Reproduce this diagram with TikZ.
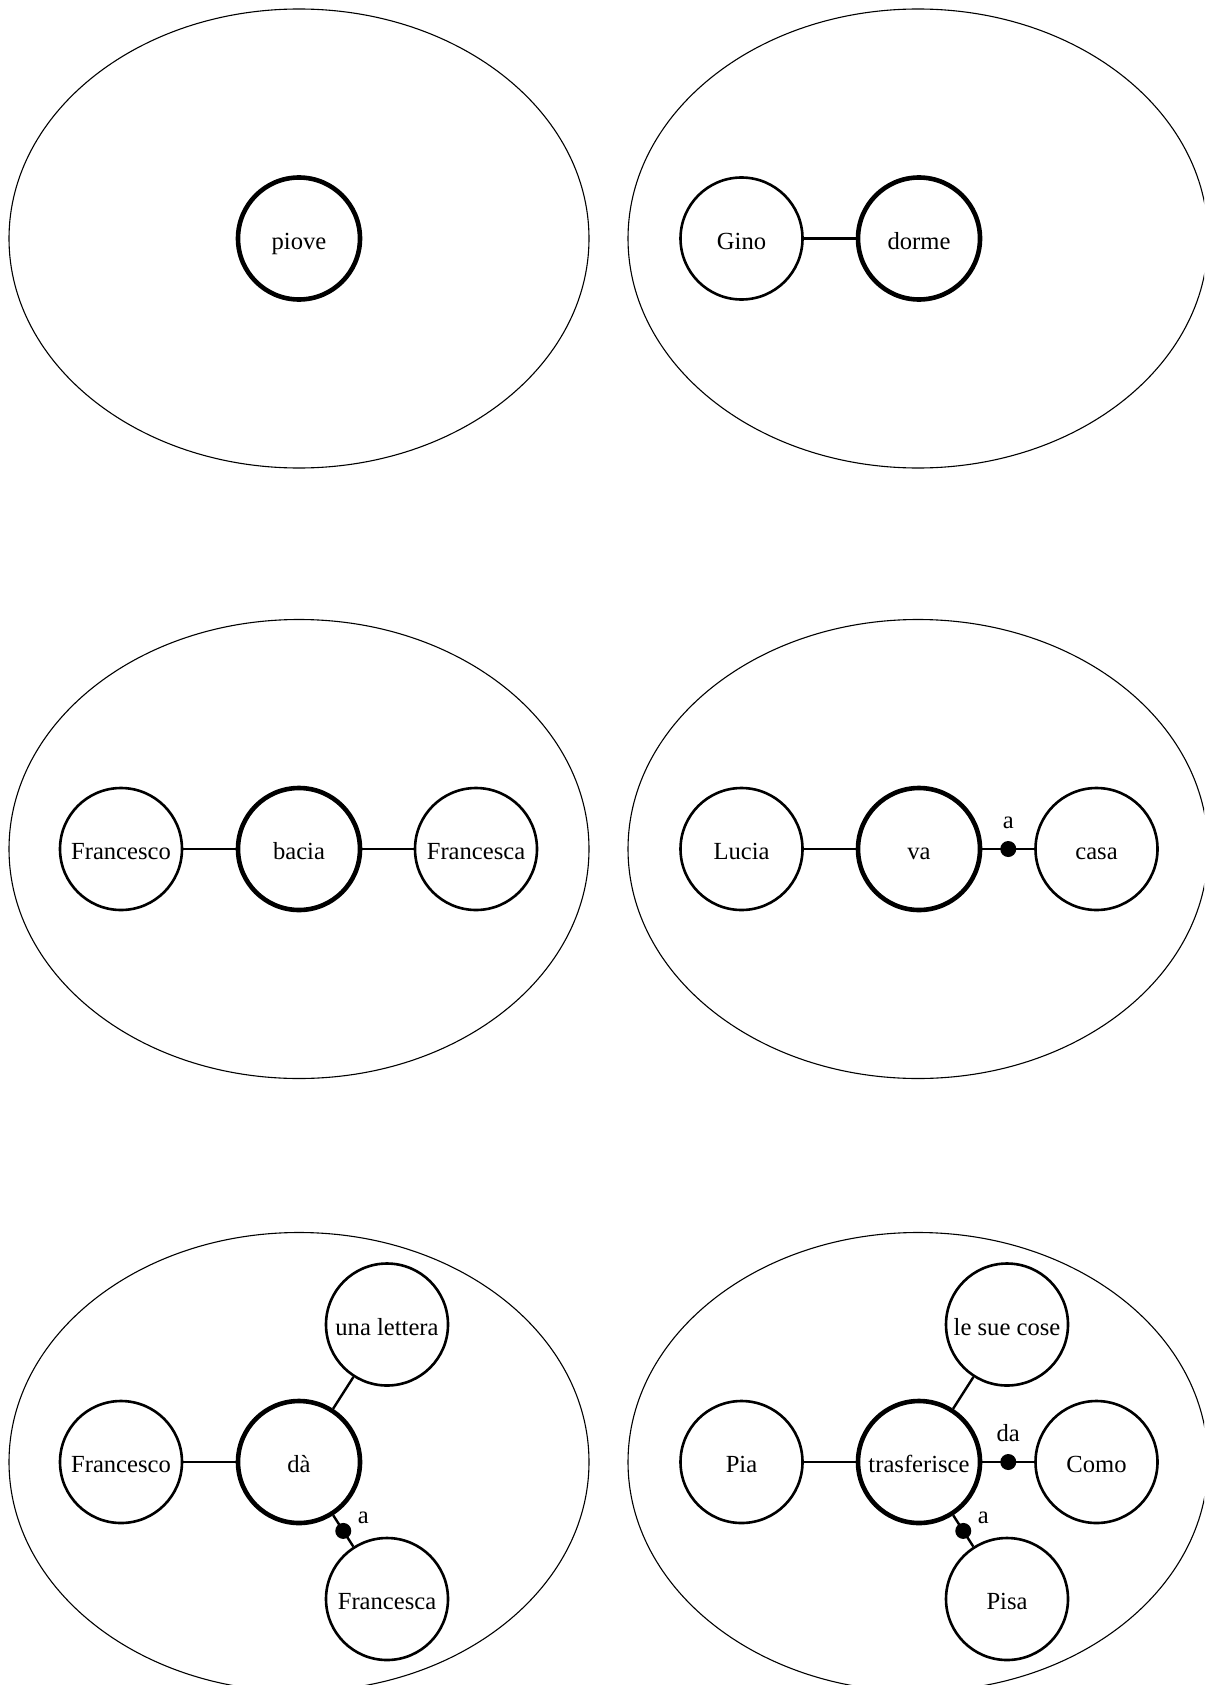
\documentclass[tikz,border=0pt]{standalone}
\usepackage{fontspec}
\setmainfont{Liberation Serif}
\begin{document}
\begin{tikzpicture}[x=0.5pt,y=-0.5pt,
  frame/.style={draw, line width=0.55pt},
  word/.style={circle, draw, line width=1.3pt, minimum size=61pt, inner sep=0pt,
    text height=11pt, text depth=0.4pt, font=\fontsize{12.3}{14}\selectfont},
  verb/.style={word, line width=2.3pt},
  link/.style={line width=1.2pt},
  dot/.style={circle, fill, inner sep=0pt, minimum size=8pt},
  lbl/.style={inner sep=0pt, anchor=base, font=\fontsize{12.3}{14}\selectfont}]
\useasboundingbox (0,0) rectangle (1204,1685);
\clip (0,0) rectangle (1204,1685);
% frames
\foreach \cx in {299,918}{
  \foreach \cy in {238.5,849,1462}{
    \draw[frame] (\cx,\cy) ellipse [x radius=145pt, y radius=114.75pt];
  }
}
% row 1
\node[verb] (piove) at (299,238.5) {piove};
\node[word] (gino) at (741.5,238.5) {Gino};
\node[verb] (dorme) at (919,238.5) {dorme};
\draw[link] (gino) -- (dorme);
% row 2
\node[word] (fco) at (121,849) {Francesco};
\node[verb] (bacia) at (299,849) {bacia};
\node[word] (fca) at (476,849) {Francesca};
\draw[link] (fco) -- (bacia);
\draw[link] (bacia) -- (fca);
\node[word] (lucia) at (741.5,849) {Lucia};
\node[verb] (va) at (919,849) {va};
\node[word] (casa) at (1096.5,849) {casa};
\draw[link] (lucia) -- (va);
\draw[link] (va) -- node[dot] (d1) {} (casa);
\node[lbl] (l1) at ([yshift=10.5pt]d1.center) {a};
% row 3 left
\node[word] (fco2) at (121,1462) {Francesco};
\node[verb] (da) at (299,1462) {dà};
\node[word] (lettera) at (387,1324.5) {una lettera};
\node[word] (fca2) at (387,1599) {Francesca};
\draw[link] (fco2) -- (da);
\draw[link] (da) -- (lettera);
\draw[link] (da) -- node[dot] (d2) {} (fca2);
\node[lbl] (l2) at ([xshift=10pt,yshift=3.5pt]d2.center) {a};
% row 3 right
\node[word] (pia) at (741.5,1462) {Pia};
\node[verb] (tras) at (919,1462) {trasferisce};
\node[word] (cose) at (1007,1324.5) {le sue cose};
\node[word] (como) at (1096.5,1462) {Como};
\node[word] (pisa) at (1007,1599) {Pisa};
\draw[link] (pia) -- (tras);
\draw[link] (tras) -- (cose);
\draw[link] (tras) -- node[dot] (d3) {} (como);
\node[lbl] (l3) at ([yshift=10.5pt]d3.center) {da};
\draw[link] (tras) -- node[dot] (d4) {} (pisa);
\node[lbl] (l4) at ([xshift=10pt,yshift=3.5pt]d4.center) {a};
\end{tikzpicture}
\end{document}
